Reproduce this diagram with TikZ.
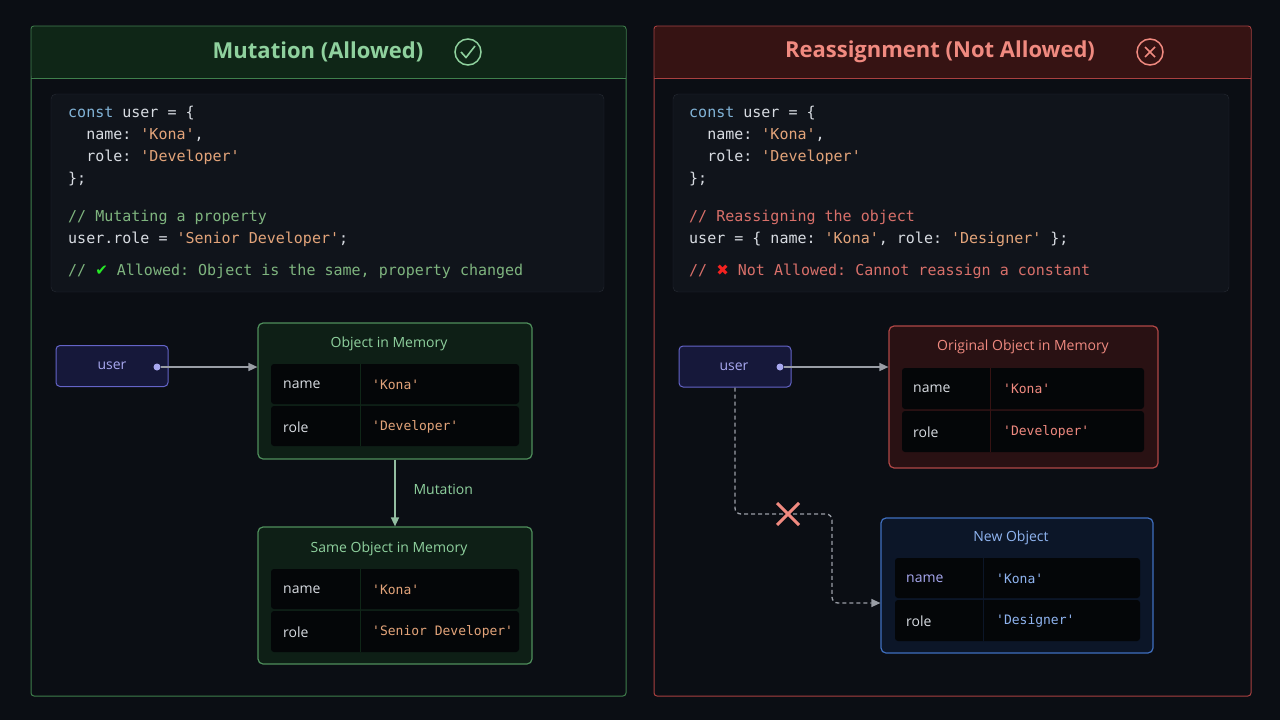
\documentclass[tikz,border=0pt]{standalone}
\usepackage{fontspec}
\setmainfont{Open Sans}
\setmonofont{DejaVu Sans Mono}
\newfontfamily\symf{DejaVu Sans}
\usetikzlibrary{arrows.meta}
\definecolor{bg}{HTML}{0B0E14}
\definecolor{gbord}{HTML}{3F7F4C}
\definecolor{ghead}{HTML}{0F2617}
\definecolor{gtitle}{HTML}{8FD19E}
\definecolor{rbord}{HTML}{A94040}
\definecolor{rhead}{HTML}{361313}
\definecolor{rtitle}{HTML}{F08A80}
\definecolor{codebg}{HTML}{10141B}
\definecolor{codebd}{HTML}{262B34}
\definecolor{kw}{HTML}{82B4D8}
\definecolor{str}{HTML}{E3A47A}
\definecolor{plain}{HTML}{D8DCE2}
\definecolor{gcom}{HTML}{7FB57F}
\definecolor{rcom}{HTML}{D9706A}
\definecolor{ufill}{HTML}{16183A}
\definecolor{ubord}{HTML}{6464C8}
\definecolor{utext}{HTML}{A8A8F0}
\definecolor{arr}{HTML}{9A9EA6}
\definecolor{bbord}{HTML}{3F6FBF}
\definecolor{btitle}{HTML}{8FB4F0}
\definecolor{bfill}{HTML}{0C1628}
\begin{document}
\begin{tikzpicture}[x=1pt,y=-1pt,
  code/.style={anchor=base west,font=\ttfamily\fontsize{15}{17}\selectfont,text=plain,inner sep=0},
  ttl/.style={font=\fontsize{14}{16}\selectfont},
  cell/.style={font=\fontsize{14}{16}\selectfont,text=plain,anchor=west,inner sep=0},
  val/.style={font=\ttfamily\fontsize{13}{15}\selectfont,anchor=west,inner sep=0},
  row/.style={fill=black!60!bg,draw=none,rounded corners=3},
  arrow/.style={draw=arr,line width=1.5pt,-{Triangle[length=9,width=8]}},
]
\fill[bg] (0,0) rectangle (1280,720);
\useasboundingbox (0,0) rectangle (1280,720);
% ---------- left panel
\draw[gbord,line width=1pt,rounded corners=3] (31,26) rectangle (626,696);
\fill[ghead,rounded corners=3] (31.5,26.5) rectangle (625.5,78);
\draw[gbord,line width=1pt] (31,78) -- (626,78);
\node[font=\bfseries\fontsize{22}{26}\selectfont,text=gtitle] (lt) at (318,52) {Mutation (Allowed)};
\draw[gtitle,line width=1.5pt] (468,52) circle (13);
\draw[gtitle,line width=1.6pt] (461,52) -- (466,57.5) -- (475,46);
\draw[codebd,fill=codebg,rounded corners=5] (51,94) rectangle (604,292);
\node[code] at (68,117) {\textcolor{kw}{const} user = \{};
\node[code] at (68,139) {\ \ name: \textcolor{str}{'Kona'},};
\node[code] at (68,161) {\ \ role: \textcolor{str}{'Developer'}};
\node[code] at (68,183) {\};};
\node[code,text=gcom] at (68,221) {// Mutating a property};
\node[code] at (68,243) {user.role = \textcolor{str}{'Senior Developer'};};
\node[code,text=gcom] at (68,275) {// {\symf\textcolor{green!70!gcom}{✔}} Allowed: Object is the same, property changed};
% user
\node[draw=ubord,fill=ufill,rounded corners=4,line width=1pt,minimum width=112,minimum height=41,inner sep=0] (u1) at (112,366) {};
\node[ttl,text=utext] at (112,366) {user};
\fill[utext] (157,367) circle (3.5);
\coordinate (u1d) at (161,367);
% object 1
\node[draw=gbord!80!gtitle,fill=ghead!70!bg,rounded corners=5,line width=1.2pt,minimum width=274,minimum height=136,inner sep=0] (o1) at (395,391) {};
\node[ttl,text=gtitle] at (389,344) {Object in Memory};
\fill[row] (271,364) rectangle (519,404);
\fill[row] (271,406) rectangle (519,446);
\draw[ghead] (360,364) -- (360,446);
\node[cell] at (283,385) {name}; \node[val,text=str] at (372,385) {'Kona'};
\node[cell] at (283,427) {role}; \node[val,text=str] at (372,427) {'Developer'};
\draw[arrow] (u1d) -- (u1d -| o1.west);
% object 2
\node[draw=gbord!80!gtitle,fill=ghead!70!bg,rounded corners=5,line width=1.2pt,minimum width=274,minimum height=137,inner sep=0] (o2) at (395,595.5) {};
\node[ttl,text=gtitle] at (389,549) {Same Object in Memory};
\fill[row] (271,569) rectangle (519,609);
\fill[row] (271,611) rectangle (519,652);
\draw[ghead] (360,569) -- (360,652);
\node[cell] at (283,590) {name}; \node[val,text=str] at (372,590) {'Kona'};
\node[cell] at (283,632) {role}; \node[val,text=str] at (372,632) {'Senior Developer'};
\draw[line width=1.5pt,-{Triangle[length=9,width=8]},draw=gtitle!60!arr] (o1.south) -- (o2.north);
\node[ttl,text=gtitle,anchor=west] at (410,489) {Mutation};
% ---------- right panel
\draw[rbord,line width=1pt,rounded corners=3] (654,26) rectangle (1251,696);
\fill[rhead,rounded corners=3] (654.5,26.5) rectangle (1250.5,78);
\draw[rbord,line width=1pt] (654,78) -- (1251,78);
\node[font=\bfseries\fontsize{22}{26}\selectfont,text=rtitle] (rt) at (940,52) {Reassignment (Not Allowed)};
\draw[rtitle,line width=1.5pt] (1150,52) circle (13);
\draw[rtitle,line width=1.6pt] (1145,47) -- (1155,57) (1155,47) -- (1145,57);
\draw[codebd,fill=codebg,rounded corners=5] (673,94) rectangle (1229,292);
\node[code] at (689,117) {\textcolor{kw}{const} user = \{};
\node[code] at (689,139) {\ \ name: \textcolor{str}{'Kona'},};
\node[code] at (689,161) {\ \ role: \textcolor{str}{'Developer'}};
\node[code] at (689,183) {\};};
\node[code,text=rcom] at (689,221) {// Reassigning the object};
\node[code] at (689,243) {user = \{ name: \textcolor{str}{'Kona'}, role: \textcolor{str}{'Designer'} \};};
\node[code,text=rcom] at (689,275) {// {\symf\textcolor{red!70!rcom}{✖}} Not Allowed: Cannot reassign a constant};
% user 2
\node[draw=ubord,fill=ufill,rounded corners=4,line width=1pt,minimum width=112,minimum height=41,inner sep=0] (u2) at (735,366.5) {};
\node[ttl,text=utext] at (734,366.5) {user};
\fill[utext] (780,367) circle (3.5);
\coordinate (u2d) at (784,367);
% original object
\node[draw=rbord!90!rtitle,fill=rhead!70!bg,rounded corners=5,line width=1.2pt,minimum width=269,minimum height=142,inner sep=0] (o3) at (1023.5,397) {};
\node[ttl,text=rtitle] at (1023,347) {Original Object in Memory};
\fill[row] (902,368) rectangle (1144,409);
\fill[row] (902,411) rectangle (1144,452);
\draw[rhead] (990,368) -- (990,452);
\node[cell] at (913,389) {name}; \node[val,text=rtitle] at (1003,389) {'Kona'};
\node[cell] at (913,432) {role}; \node[val,text=rtitle] at (1003,432) {'Developer'};
\draw[arrow] (u2d) -- (u2d -| o3.west);
% new object
\node[draw=bbord,fill=bfill,rounded corners=5,line width=1.2pt,minimum width=272,minimum height=135,inner sep=0] (o4) at (1017,585.5) {};
\node[ttl,text=btitle] at (1011,538) {New Object};
\fill[row] (895,558) rectangle (1140,598);
\fill[row] (895,600) rectangle (1140,641);
\draw[bfill] (983,558) -- (983,641);
\node[cell,text=utext] at (906,579) {name}; \node[val,text=btitle] at (996,579) {'Kona'};
\node[cell,text=plain] at (906,621) {role}; \node[val,text=btitle] at (996,621) {'Designer'};
\draw[draw=arr,line width=1.3pt,dash pattern=on 4pt off 3pt,rounded corners=6,-{Triangle[length=9,width=8]}]
  (u2.south) -- (735,514) -- (832,514) -- (832,603) -- (o4.west |- 0,603);
\draw[rtitle,line width=3pt] (777,503) -- (799,525) (799,503) -- (777,525);
\end{tikzpicture}
\end{document}
